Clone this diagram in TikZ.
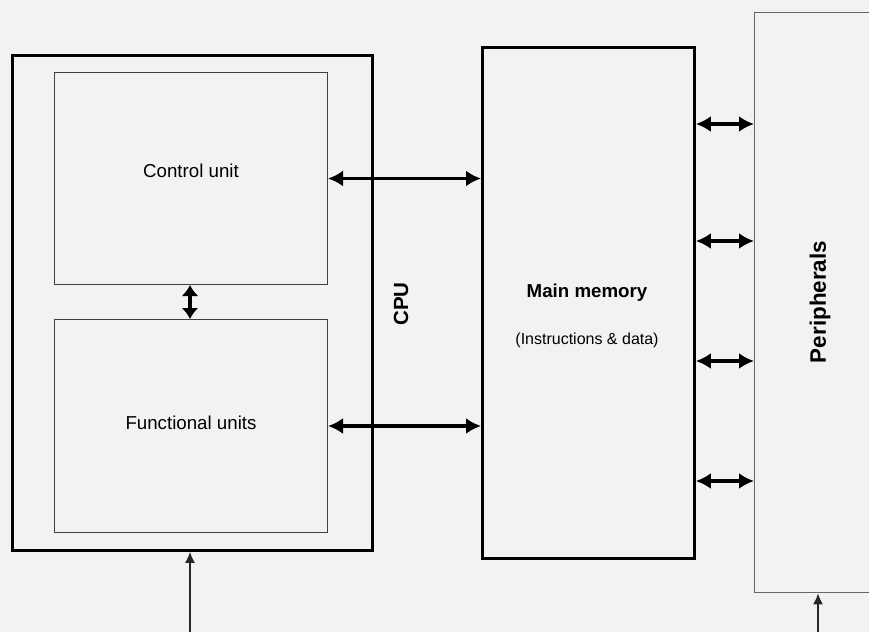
\documentclass[tikz,border=0pt]{standalone}
\usepackage{fontspec}
\setmainfont{Liberation Sans}
\usetikzlibrary{arrows.meta}
\definecolor{bg}{HTML}{F2F2F2}
\tikzset{
  box/.style={draw=black, line width=2.8pt, anchor=north west, inner sep=0pt},
  subbox/.style={draw=black!75, line width=1pt, anchor=north west, inner sep=0pt},
  perbox/.style={draw=black!60, line width=1.4pt, anchor=north west, inner sep=0pt},
  bigarrow/.style={line width=3.6pt, {Latex[length=15pt,width=16pt]}-{Latex[length=15pt,width=16pt]}},
  smallarrow/.style={line width=3.6pt, {Latex[length=11pt,width=17pt]}-{Latex[length=11pt,width=17pt]}},
  inarrow/.style={line width=1.5pt, draw=black!85, -{Latex[length=11pt,width=10pt]}},
  lbl/.style={font=\fontsize{18.7}{22}\selectfont},
  blbl/.style={font=\fontsize{18.7}{22}\selectfont\bfseries},
  slbl/.style={font=\fontsize{16}{19}\selectfont},
}
\begin{document}
\begin{tikzpicture}[x=1pt,y=-1pt]
\fill[bg] (0,0) rectangle (869,632);
\clip (0,0) rectangle (869,632);
\node[box, minimum width=360pt, minimum height=495pt] (cpu) at (11,54) {};
\node[subbox, minimum width=273pt, minimum height=212pt] (cu) at (54,72) {};
\node[subbox, minimum width=273pt, minimum height=213pt] (fu) at (54,319) {};
\node[box, minimum width=212pt, minimum height=511pt] (mm) at (481,46) {};
\node[perbox, minimum width=160pt, minimum height=580pt] (per) at (754,12) {};

\node[lbl] (cutxt) at (191,171) {Control unit};
\node[lbl] (futxt) at (191,423) {Functional units};
\node[blbl, rotate=90, font=\fontsize{20.5}{24}\selectfont\bfseries] (cputxt) at (401,304) {CPU};
\node[blbl] (mmtxt) at (587,293) {Main memory};
\node[slbl] (mmsub) at (587,340) {(Instructions \& data)};
\node[blbl, rotate=90, font=\fontsize{22.4}{26}\selectfont\bfseries] (pertxt) at (820,302) {Peripherals};

\draw[bigarrow] (cu.east) -- (mm.west |- cu.east);
\draw[bigarrow] (fu.east) -- (mm.west |- fu.east);
\draw[smallarrow] (cu.south -| 190,0) -- (fu.north -| 190,0);
\foreach \yy in {124,241,361,481}{
  \draw[bigarrow] (mm.east |- 0,\yy) -- (per.west |- 0,\yy);
}
\coordinate (in1) at (190,632);
\coordinate (in2) at (818,632);
\draw[inarrow] (in1) -- (in1 |- cpu.south);
\draw[inarrow] (in2) -- (in2 |- per.south);
\end{tikzpicture}
\end{document}
